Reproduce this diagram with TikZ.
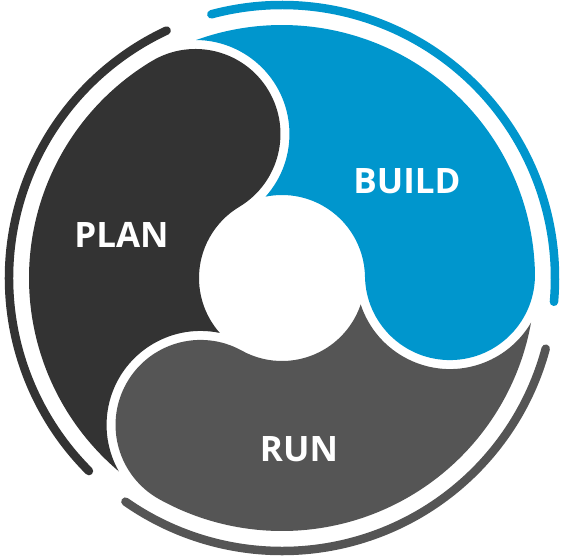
\documentclass[tikz,border=0pt]{standalone}
\usepackage{fontspec}
\setmainfont{Open Sans}
\usetikzlibrary{positioning}
\definecolor{planc}{RGB}{51,51,51}
\definecolor{buildc}{RGB}{0,150,205}
\definecolor{runc}{RGB}{85,85,85}

\begin{document}
\begin{tikzpicture}[x=1pt,y=1pt,
  ring/.style={line width=8.5pt,line cap=round},
  lbl/.style={text=white,font=\fontsize{35}{40}\selectfont\bfseries,inner sep=0pt}]
  \useasboundingbox (-282,-280) rectangle (280,278);
  % one segment: outer rim, round head, inner rim, hollow tail
  \foreach \rot/\col in {1/buildc,121/planc,241/runc}{
    \begin{scope}[rotate=\rot]
      \fill[\col] (108.83:253) arc[start angle=108.83,end angle=0,radius=253]
        arc[start angle=0,end angle=-180,radius=85]
        arc[start angle=0,end angle=100.44,radius=83]
        arc[start angle=-42.8,end angle=88.57,radius=94] -- cycle;
      \draw[ring,\col] (104:273) arc[start angle=104,end angle=-6,radius=273];
    \end{scope}
  }
  \node[lbl] (plan) at (-160.5,43.3){PLAN};
  \node[lbl] (build) at (125,96.7){BUILD};
  \node[lbl] (run) at (17,-171){RUN};
\end{tikzpicture}
\end{document}
